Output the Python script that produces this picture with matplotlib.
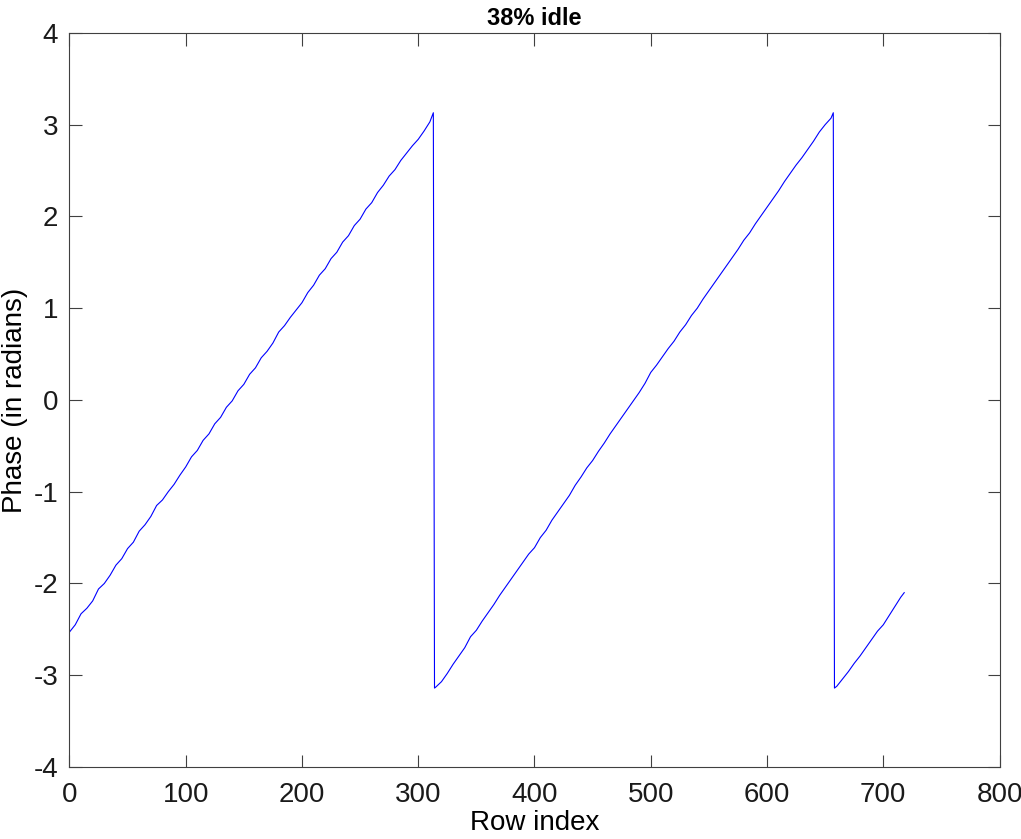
import matplotlib
matplotlib.use("Agg")
import matplotlib.pyplot as plt

plt.rcParams['font.family'] = ['Liberation Sans', 'DejaVu Sans']
plt.rcParams['axes.unicode_minus'] = False

# segment 1: rising from start to first wrap
rows_1 = [0, 5, 10, 15, 20, 25, 30, 35, 40, 45, 50, 55, 60, 65, 70, 75, 80, 85, 90, 95,
          100, 105, 110, 115, 120, 125, 130, 135, 140, 145, 150, 155, 160, 165, 170, 175,
          180, 185, 190, 195, 200, 205, 210, 215, 220, 225, 230, 235, 240, 245, 250, 255,
          260, 265, 270, 275, 280, 285, 290, 295, 300, 305, 310, 313]
phase_1 = [-2.53, -2.45, -2.33, -2.27, -2.19, -2.06, -2.00, -1.91, -1.80, -1.73, -1.62, -1.55,
           -1.43, -1.36, -1.27, -1.15, -1.09, -1.00, -0.92, -0.82, -0.73, -0.62, -0.55, -0.44,
           -0.37, -0.26, -0.19, -0.08, -0.01, 0.10, 0.17, 0.28, 0.35, 0.46, 0.53, 0.62,
           0.74, 0.81, 0.90, 0.98, 1.06, 1.17, 1.25, 1.36, 1.43, 1.54, 1.61, 1.72,
           1.79, 1.90, 1.97, 2.08, 2.15, 2.26, 2.34, 2.44, 2.51, 2.61, 2.69, 2.77,
           2.84, 2.93, 3.03, 3.13]

# segment 2: after first wrap
rows_2 = [314, 315, 320, 325, 330, 335, 340, 345, 350, 355, 360, 365, 370, 375, 380, 385,
          390, 395, 400, 405, 410, 415, 420, 425, 430, 435, 440, 445, 450, 455, 460, 465,
          470, 475, 480, 485, 490, 495, 500, 505, 510, 515, 520, 525, 530, 535, 540, 545,
          550, 555, 560, 565, 570, 575, 580, 585, 590, 595, 600, 605, 610, 615, 620, 625,
          630, 635, 640, 645, 650, 655, 657]
phase_2 = [-3.14, -3.13, -3.07, -2.98, -2.88, -2.79, -2.70, -2.58, -2.51, -2.41, -2.32, -2.23,
           -2.13, -2.04, -1.95, -1.86, -1.77, -1.68, -1.61, -1.50, -1.42, -1.31, -1.22, -1.13,
           -1.04, -0.93, -0.84, -0.74, -0.66, -0.56, -0.47, -0.37, -0.28, -0.19, -0.10, -0.01,
           0.08, 0.18, 0.30, 0.38, 0.47, 0.56, 0.64, 0.74, 0.82, 0.92, 1.00, 1.10,
           1.19, 1.28, 1.37, 1.46, 1.55, 1.64, 1.74, 1.82, 1.92, 2.01, 2.10, 2.19,
           2.28, 2.38, 2.47, 2.56, 2.64, 2.73, 2.82, 2.92, 3.00, 3.07, 3.13]

# segment 3: after second wrap
rows_3 = [658, 660, 665, 670, 675, 680, 685, 690, 695, 700, 705, 710, 715, 718]
phase_3 = [-3.14, -3.12, -3.04, -2.96, -2.87, -2.79, -2.70, -2.61, -2.52, -2.45, -2.35,
           -2.25, -2.15, -2.10]

rows = rows_1 + rows_2 + rows_3
phase = phase_1 + phase_2 + phase_3

fig = plt.figure(figsize=(10.21, 8.39), dpi=100)
ax = fig.add_axes([0.068, 0.0858, 0.911, 0.875])
ax.plot(rows, phase, color='#0000ff', linewidth=0.8)

ax.set_xlim(0, 800)
ax.set_ylim(-4, 4)
ax.set_xticks(range(0, 801, 100))
ax.set_yticks(range(-4, 5))

axis_color = '#404040'
for s in ax.spines.values():
    s.set_color(axis_color)
    s.set_linewidth(0.8)
ax.tick_params(direction='in', length=9, width=0.8, color=axis_color,
               top=True, right=True, labelsize=20, labelcolor='#1a1a1a')
ax.tick_params(axis='x', pad=11)
ax.tick_params(axis='y', pad=8)

ax.set_title('38% idle', fontsize=17, fontweight='bold', pad=6)
ax.set_xlabel('Row index', fontsize=20, labelpad=1)
ax.set_ylabel('Phase (in radians)', fontsize=20, labelpad=4)

fig.savefig('out.png', dpi=100)
